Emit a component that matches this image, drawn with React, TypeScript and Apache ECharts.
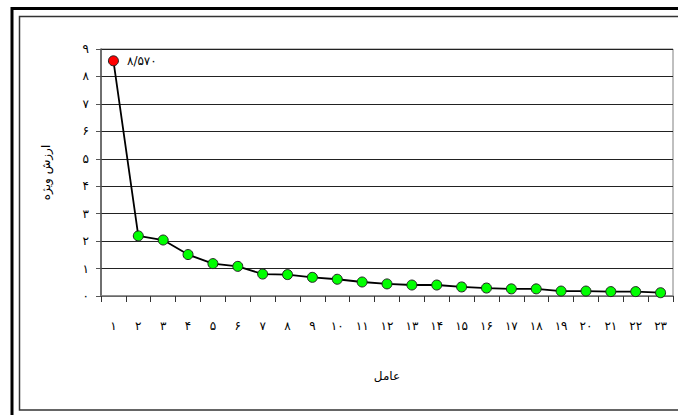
import React, { useEffect, useRef } from "react";
import * as echarts from "echarts";

const categories = ["۱","۲","۳","۴","۵","۶","۷","۸","۹","۱۰","۱۱","۱۲","۱۳","۱۴","۱۵","۱۶","۱۷","۱۸","۱۹","۲۰","۲۱","۲۲","۲۳"];
const eigenValues = [8.57, 2.19, 2.04, 1.51, 1.18, 1.08, 0.8, 0.78, 0.68, 0.61, 0.51, 0.44, 0.4, 0.4, 0.33, 0.29, 0.26, 0.26, 0.18, 0.18, 0.16, 0.16, 0.12];
const yMin = 0;
const yMax = 9;
const yInterval = 1;
const xTitle = "عامل";
const yTitle = "ارزش ویژه";

const faDigits = "۰۱۲۳۴۵۶۷۸۹";
const toFa = (s: string) => s.replace(/[0-9]/g, (d) => faDigits[Number(d)]).replace(/\./g, "/");

const FONT = "DejaVu Sans";

export default function App() {
  const ref = useRef<HTMLDivElement>(null);
  useEffect(() => {
    const chart = echarts.init(ref.current!, null, { renderer: "svg" });
    chart.setOption({
      animation: false,
      backgroundColor: "#fff",
      grid: {
        left: 101,
        top: 49,
        width: 572,
        height: 247,
        show: true,
        borderColor: "#808080",
        borderWidth: 1,
        containLabel: false,
      },
      graphic: [
        {
          type: "rect",
          shape: { x: 12, y: 8.5, width: 700, height: 440 },
          style: { fill: "none", stroke: "#000", lineWidth: 3 },
          z: -1,
        },
        {
          type: "rect",
          shape: { x: 19.5, y: 16.5, width: 700, height: 393.5 },
          style: { fill: "none", stroke: "#333", lineWidth: 1.5 },
          z: -1,
        },
      ],
      xAxis: {
        type: "category",
        data: categories,
        boundaryGap: true,
        name: xTitle,
        nameLocation: "middle",
        nameGap: 74,
        nameTextStyle: { fontFamily: FONT, fontSize: 12, color: "#000" },
        axisLine: { show: true, lineStyle: { color: "#808080", width: 1.5 } },
        axisTick: { show: true, alignWithLabel: false, length: 6, lineStyle: { color: "#333" } },
        axisLabel: { margin: 24, fontFamily: FONT, fontSize: 12, color: "#000", interval: 0 },
        splitLine: { show: false },
      },
      yAxis: {
        type: "value",
        min: yMin,
        max: yMax,
        interval: yInterval,
        name: yTitle,
        nameLocation: "middle",
        nameGap: 49,
        nameRotate: 90,
        nameTextStyle: { fontFamily: FONT, fontSize: 12, color: "#000" },
        axisLine: { show: true, lineStyle: { color: "#555", width: 1.5 } },
        axisTick: { show: true, length: 5, lineStyle: { color: "#555" } },
        axisLabel: {
          margin: 12,
          fontFamily: FONT,
          fontSize: 12,
          color: "#000",
          formatter: (v: number) => toFa(String(v)),
        },
        splitLine: { show: true, lineStyle: { color: "#222", width: 1 } },
      },
      series: [
        {
          type: "line",
          data: eigenValues.map((v, i) =>
            i === 0
              ? {
                  value: v,
                  itemStyle: { color: "#ff0000" },
                  label: {
                    show: true,
                    position: "right",
                    distance: 8,
                    fontFamily: FONT,
                    fontSize: 12,
                    color: "#000",
                    formatter: (p: any) => toFa(Number(p.value).toFixed(3)),
                  },
                }
              : v
          ),
          symbol: "circle",
          symbolSize: 10,
          lineStyle: { color: "#000", width: 1.8 },
          itemStyle: { color: "#00ff00", borderColor: "#222", borderWidth: 1 },
          z: 5,
        },
      ],
    });
    return () => chart.dispose();
  }, []);
  return (
    <div
      ref={ref}
      style={{ position: "fixed", left: 0, top: 0, width: 678, height: 415 }}
    />
  );
}
